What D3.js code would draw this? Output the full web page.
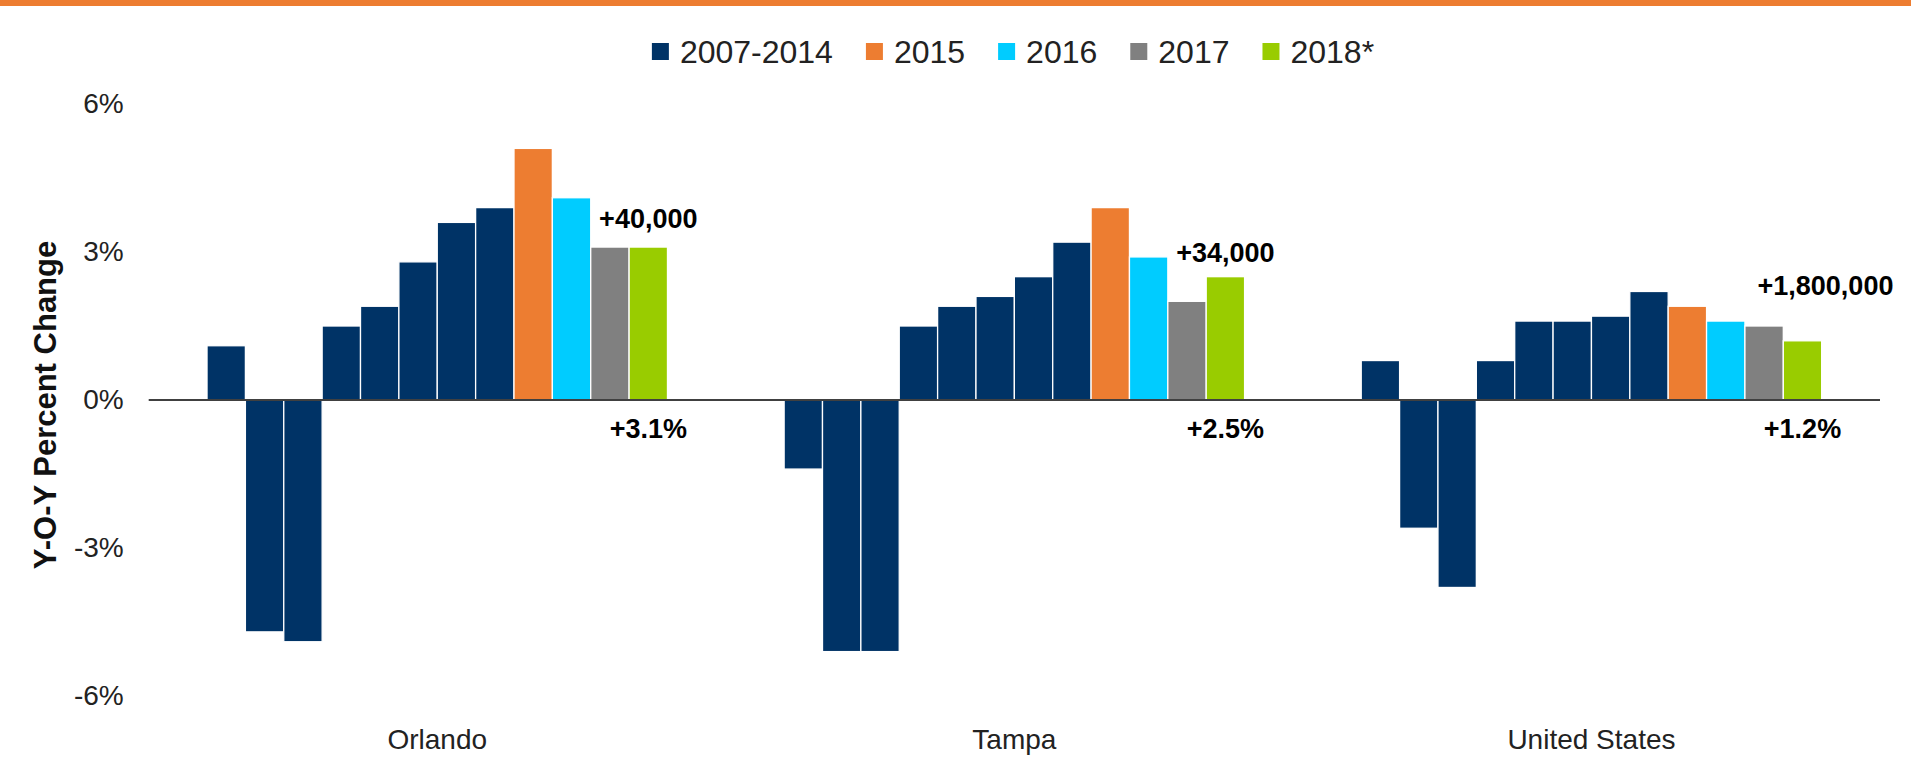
<!DOCTYPE html>
<html>
<head>
<meta charset="utf-8">
<script src="https://cdn.jsdelivr.net/npm/d3@7"></script>
<style>
  html, body { margin: 0; padding: 0; background: #fff; }
  svg { display: block; font-family: "Liberation Sans", Arial, sans-serif; }
</style>
</head>
<body>
<svg id="chart" width="1911" height="757"></svg>
<script>
// data
const cities = ["Orlando", "Tampa", "United States"]
const years = ["2007", "2008", "2009", "2010", "2011", "2012", "2013", "2014", "2015", "2016", "2017", "2018"]
const orlando = [1.1, -4.7, -4.9, 1.5, 1.9, 2.8, 3.6, 3.9, 5.1, 4.1, 3.1, 3.1]
const tampa = [-1.4, -5.1, -5.1, 1.5, 1.9, 2.1, 2.5, 3.2, 3.9, 2.9, 2.0, 2.5]
const unitedStates = [0.8, -2.6, -3.8, 0.8, 1.6, 1.6, 1.7, 2.2, 1.9, 1.6, 1.5, 1.2]
const legendLabels = ["2007-2014", "2015", "2016", "2017", "2018*"]
const yTicks = [-6, -3, 0, 3, 6]
const jobLabels = ["+40,000", "+34,000", "+1,800,000"]
const pctLabels = ["+3.1%", "+2.5%", "+1.2%"]

const seriesByCity = [orlando, tampa, unitedStates]

const color = d3.scaleOrdinal()
  .domain(legendLabels)
  .range(["#003366", "#ED7D31", "#00CCFF", "#808080", "#99CC00"])
// which legend entry each year belongs to
const yearGroup = y => (+y <= 2014 ? "2007-2014" : (y === "2018" ? "2018*" : y))

const svg = d3.select("#chart")

// orange band on top
svg.append("rect")
  .attr("x", 0).attr("y", 0)
  .attr("width", 1911).attr("height", 6)
  .attr("fill", "#ED7D31")

const x0 = d3.scaleBand()
  .domain(cities)
  .range([148.7, 1880])
  .padding(0)

const x1 = d3.scaleBand()
  .domain(years)
  .range([0, x0.bandwidth()])
  .paddingInner(0)
  .paddingOuter(1.52)

const y = d3.scaleLinear()
  .domain([-6, 6])
  .range([696, 104])

// y axis labels
const yAxis = svg.append("g")
  .attr("transform", "translate(148.7,0)")
  .call(d3.axisLeft(y).tickValues(yTicks).tickSize(0).tickPadding(25).tickFormat(d => d + "%"))
yAxis.select(".domain").remove()
yAxis.selectAll("text")
  .attr("font-size", 28)
  .attr("font-family", "'Liberation Sans', Arial, sans-serif")
  .attr("fill", "#222")

svg.append("text")
  .attr("transform", "rotate(-90)")
  .attr("x", -405)
  .attr("y", 56)
  .attr("text-anchor", "middle")
  .attr("font-size", 31)
  .attr("font-weight", "bold")
  .attr("fill", "#111")
  .text("Y-O-Y Percent Change")

// bars
const groups = svg.selectAll(".city")
  .data(cities)
  .join("g")
  .attr("class", "city")
  .attr("transform", d => `translate(${x0(d)},0)`)

groups.selectAll("rect")
  .data((d, i) => seriesByCity[i].map((v, j) => ({ year: years[j], value: v })))
  .join("rect")
  .attr("x", d => x1(d.year))
  .attr("width", x1.bandwidth())
  .attr("y", d => y(Math.max(0, d.value)))
  .attr("height", d => Math.abs(y(d.value) - y(0)))
  .attr("fill", d => color(yearGroup(d.year)))
  .attr("stroke", "#fff")
  .attr("stroke-width", 1.3)

// zero line
svg.append("line")
  .attr("x1", 148.7).attr("x2", 1880)
  .attr("y1", y(0)).attr("y2", y(0))
  .attr("stroke", "#404040")
  .attr("stroke-width", 1.8)

// city labels
svg.selectAll(".cityLabel")
  .data(cities)
  .join("text")
  .attr("class", "cityLabel")
  .attr("x", d => x0(d) + x0.bandwidth() / 2)
  .attr("y", 749)
  .attr("text-anchor", "middle")
  .attr("font-size", 28)
  .attr("fill", "#222")
  .text(d => d)

// annotations over the 2018 bar
const lastYear = years[years.length - 1]
const labelLift = [19, 15, 46]
const labelShift = [0, 0, 23]

svg.selectAll(".jobLabel")
  .data(jobLabels)
  .join("text")
  .attr("class", "jobLabel")
  .attr("x", (d, i) => x0(cities[i]) + x1(lastYear) + x1.bandwidth() / 2 + labelShift[i])
  .attr("y", (d, i) => y(seriesByCity[i][11]) - labelLift[i])
  .attr("text-anchor", "middle")
  .attr("font-size", 27)
  .attr("font-weight", "bold")
  .attr("fill", "#000")
  .text(d => d)

svg.selectAll(".pctLabel")
  .data(pctLabels)
  .join("text")
  .attr("class", "pctLabel")
  .attr("x", (d, i) => x0(cities[i]) + x1(lastYear) + x1.bandwidth() / 2)
  .attr("y", 438)
  .attr("text-anchor", "middle")
  .attr("font-size", 27)
  .attr("font-weight", "bold")
  .attr("fill", "#000")
  .text(d => d)

// legend
const legend = svg.append("g")
const items = legend.selectAll("g")
  .data(legendLabels)
  .join("g")

items.append("rect")
  .attr("width", 17).attr("height", 17)
  .attr("y", 43)
  .attr("fill", d => color(d))

items.append("text")
  .attr("x", 28)
  .attr("y", 63)
  .attr("font-size", 32)
  .attr("fill", "#222")
  .text(d => d)

let cursor = 0
items.each(function () {
  const w = d3.select(this).select("text").node().getComputedTextLength()
  d3.select(this).attr("transform", `translate(${cursor},0)`)
  cursor += 28 + w + 33
})
const legendWidth = cursor - 33
legend.attr("transform", `translate(${1013 - legendWidth / 2},0)`)
</script>
</body>
</html>
